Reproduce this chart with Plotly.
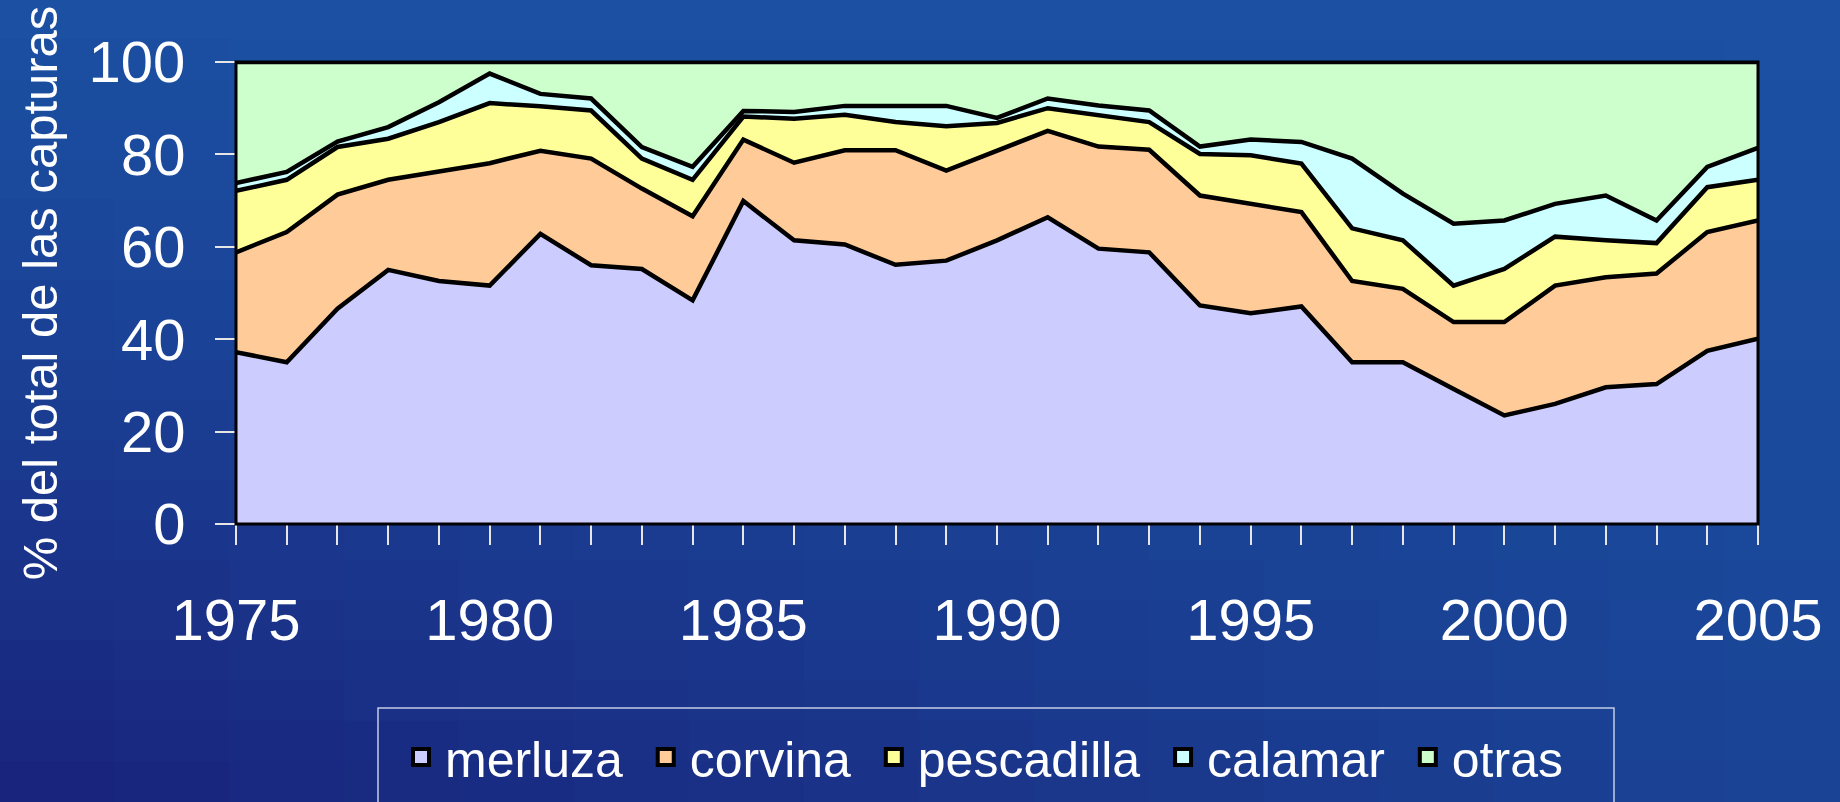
import plotly.graph_objects as go

# ---------------- data ----------------
years = list(range(1975, 2006))
merluza = [37.2, 35.0, 46.6, 55.0, 52.6, 51.6, 62.8, 56.0, 55.2, 48.4,
           69.9, 61.4, 60.5, 56.1, 57.0, 61.4, 66.4, 59.6, 58.8, 47.3,
           45.6, 47.1, 35.0, 35.0, 29.2, 23.5, 26.0, 29.6, 30.3, 37.5, 40.1]
corvina = [21.6, 28.2, 24.7, 19.5, 23.7, 26.5, 18.0, 23.1, 17.4, 18.2,
           13.3, 16.8, 20.4, 24.8, 19.5, 19.5, 18.7, 22.1, 22.2, 23.8,
           23.7, 20.4, 17.6, 15.9, 14.5, 20.2, 25.6, 23.8, 23.9, 25.7, 25.6]
pescadilla = [13.3, 11.3, 10.3, 8.9, 10.7, 13.0, 9.6, 10.4, 6.5, 7.9,
              5.0, 9.5, 7.7, 6.1, 9.6, 5.9, 4.9, 6.7, 6.0, 9.0,
              10.5, 10.5, 11.4, 10.5, 7.9, 11.5, 10.6, 8.0, 6.6, 9.7, 8.8]
calamar = [1.7, 1.7, 1.2, 2.5, 4.3, 6.4, 2.7, 2.6, 2.5, 2.8,
           1.2, 1.5, 1.9, 3.5, 4.4, 1.1, 2.1, 2.2, 2.5, 1.6,
           3.4, 4.7, 15.1, 10.1, 13.4, 10.5, 7.1, 9.7, 4.9, 4.4, 6.9]
otras = [26.2, 23.8, 17.2, 14.1, 8.7, 2.5, 6.9, 7.9, 18.4, 22.7,
         10.6, 10.8, 9.5, 9.5, 9.5, 12.1, 7.9, 9.4, 10.5, 18.3,
         16.8, 17.3, 20.9, 28.5, 35.0, 34.3, 30.7, 28.9, 34.3, 22.7, 18.6]

series_names = ["merluza", "corvina", "pescadilla", "calamar", "otras"]
series_values = [merluza, corvina, pescadilla, calamar, otras]
fill_colors = ["#CCCCFF", "#FFCC99", "#FFFF99", "#CCFFFF", "#CCFFCC"]
x_tick_years = [1975, 1980, 1985, 1990, 1995, 2000, 2005]
y_ticks = [0, 20, 40, 60, 80, 100]
y_title = "% del total de las capturas"

FONT = "Liberation Sans, Arial, sans-serif"
W, H = 1840, 802
ML, MR, MT, MB = 236, 82, 62, 278
PW, PH = W - ML - MR, H - MT - MB


def px_x(p):
    return (p - ML) / PW


def px_y(p):
    return (H - MB - p) / PH


fig = go.Figure()

# stacked areas
for name, vals, col in zip(series_names, series_values, fill_colors):
    fig.add_trace(go.Scatter(
        x=years, y=vals, name=name, stackgroup="one", mode="lines",
        line=dict(color="black", width=4.5), fillcolor=col,
        showlegend=False, hoverinfo="x+y+name"))

# legend entries (square swatches)
for name, col in zip(series_names, fill_colors):
    fig.add_trace(go.Scatter(
        x=[None], y=[None], name=name + "\u00a0", mode="markers",
        marker=dict(symbol="square", size=16, color=col,
                    line=dict(color="black", width=4)),
        showlegend=True))

# background gradient (decoration)
shapes = []
ncol, nrow = 16, 20


def mix(a, b, t):
    return tuple(a[i] + (b[i] - a[i]) * t for i in range(3))


top_c = (27, 80, 162)
bl_c = (25, 33, 122)
br_c = (26, 68, 150)
for i in range(nrow):
    ty = (i + 0.5) / nrow
    for j in range(ncol):
        tx = (j + 0.5) / ncol
        bottom = mix(bl_c, br_c, tx)
        c = mix(top_c, bottom, ty ** 1.3)
        col = "rgb(%d,%d,%d)" % tuple(int(round(v)) for v in c)
        shapes.append(dict(
            type="rect", xref="paper", yref="paper", layer="below",
            x0=px_x(j * W / ncol - 1), x1=px_x((j + 1) * W / ncol + 1),
            y0=px_y(i * H / nrow - 1), y1=px_y((i + 1) * H / nrow + 1),
            line=dict(width=0), fillcolor=col))

# plot border
shapes.append(dict(type="rect", xref="paper", yref="paper", layer="above",
                   x0=0, x1=1, y0=0, y1=1,
                   line=dict(color="black", width=3)))
# legend box
shapes.append(dict(type="rect", xref="paper", yref="paper", layer="above",
                   x0=px_x(378), x1=px_x(1614), y0=px_y(708), y1=px_y(840),
                   line=dict(color="#c4cde6", width=1.5)))

fig.update_layout(
    width=W, height=H,
    margin=dict(l=ML, r=MR, t=MT, b=MB, autoexpand=False),
    paper_bgcolor="#1a3f90",
    plot_bgcolor="#CCFFCC",
    font=dict(family=FONT, color="white"),
    shapes=shapes,
    showlegend=True,
    legend=dict(
        orientation="h", x=px_x(397), xanchor="left",
        y=px_y(757), yanchor="middle",
        font=dict(family=FONT, size=50, color="white"),
        bgcolor="rgba(0,0,0,0)", borderwidth=0, itemwidth=38,
        traceorder="normal", itemclick=False),
)

fig.update_xaxes(
    range=[1975, 2005], tickmode="array", tickvals=x_tick_years,
    ticks="outside", ticklen=20, tickwidth=1.5, tickcolor="#e6e6e6",
    minor=dict(tickmode="array", tickvals=years, ticks="outside",
               ticklen=20, tickwidth=1.5, tickcolor="#e6e6e6",
               showgrid=False),
    showline=True, linecolor="#b0b0b0", linewidth=1,
    showgrid=False, zeroline=False,
    tickfont=dict(family=FONT, size=58, color="white"),
    ticklabelstandoff=25,
)
fig.update_yaxes(
    range=[0, 100], tickmode="array", tickvals=y_ticks,
    ticks="outside", ticklen=20, tickwidth=1.5, tickcolor="#e6e6e6",
    showline=True, linecolor="#b0b0b0", linewidth=1,
    showgrid=False, zeroline=False,
    tickfont=dict(family=FONT, size=58, color="white"),
    ticklabelstandoff=18,
    title=dict(text=y_title, font=dict(family=FONT, size=49, color="white"),
               standoff=15),
)

fig.write_html(
    "out.html",
    config={"displayModeBar": False},
    post_script="document.body.style.margin='0';"
                "document.body.style.background='#1a3f90';")
